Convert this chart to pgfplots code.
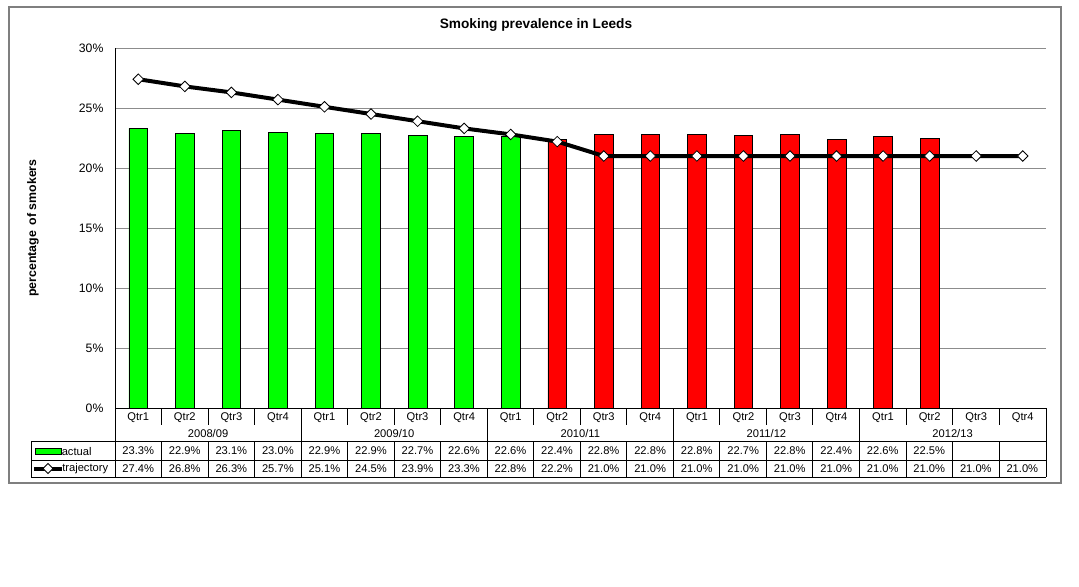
\documentclass[border=0pt]{standalone}
\usepackage{fontspec}
\setmainfont{Liberation Sans}
\usepackage{pgfplots}
\usepackage{pgfplotstable}
\pgfplotsset{compat=1.18}

\definecolor{barGreen}{HTML}{00FF00}
\definecolor{barRed}{HTML}{FF0000}
\definecolor{gridGray}{HTML}{8C8C8C}
\definecolor{frameGray}{HTML}{7F7F7F}

% quarterly smoking prevalence (%), quarters numbered from 2008/09 Qtr1
\pgfplotstableread{
idx actual
0  23.3
1  22.9
2  23.1
3  23.0
4  22.9
5  22.9
6  22.7
7  22.6
8  22.6
9  22.4
10 22.8
11 22.8
12 22.8
13 22.7
14 22.8
15 22.4
16 22.6
17 22.5
}\actualdata

\pgfplotstableread{
idx traj
0  27.4
1  26.8
2  26.3
3  25.7
4  25.1
5  24.5
6  23.9
7  23.3
8  22.8
9  22.2
10 21.0
11 21.0
12 21.0
13 21.0
14 21.0
15 21.0
16 21.0
17 21.0
18 21.0
19 21.0
}\trajdata

\newcommand{\tablefont}{\fontsize{8.4}{10}\selectfont}
\newcommand{\pctfmt}[1]{\pgfmathprintnumber[fixed,fixed zerofill,precision=1,assume math mode=true]{#1}\%}

\begin{document}
\begin{tikzpicture}
% page area, in pixel units measured from the top-left corner
\begin{scope}[x=0.75bp,y=-0.75bp]
  \path[use as bounding box] (0,0) rectangle (1079,586);
  \draw[frameGray,line width=1.3bp] (9,7) rectangle (1061,483);
\end{scope}

\begin{axis}[
  at={(86.25bp,-306bp)}, anchor=south west,
  width=698.25bp, height=270bp, scale only axis,
  xmin=-0.5, xmax=19.5, ymin=0, ymax=30,
  clip=false,
  axis line style={draw=none},
  major tick length=0pt,
  ytick={0,5,...,30},
  yticklabel={\pgfmathprintnumber{\tick}\%},
  yticklabel style={font=\fontsize{9.2}{11}\selectfont, anchor=east, inner sep=0pt, xshift=-8.5bp},
  xtick={0,...,19},
  xticklabels={Qtr1,Qtr2,Qtr3,Qtr4,Qtr1,Qtr2,Qtr3,Qtr4,Qtr1,Qtr2,Qtr3,Qtr4,Qtr1,Qtr2,Qtr3,Qtr4,Qtr1,Qtr2,Qtr3,Qtr4},
  xticklabel style={font=\tablefont, anchor=center, inner sep=0pt, yshift=-7bp},
  ymajorgrids,
  grid style={gridGray, line width=0.7bp},
  /pgf/number format/assume math mode=true,
]
  % actual prevalence: 2008/09 to 2010/11 Qtr1 in green, later quarters in red
  \addplot[ybar, bar shift=0pt, bar width=14bp, fill=barGreen, draw=black, line width=0.5bp,
           restrict x to domain=0:8]
    table[x=idx, y=actual] {\actualdata};
  \addplot[ybar, bar shift=0pt, bar width=14bp, fill=barRed, draw=black, line width=0.5bp,
           restrict x to domain=9:17]
    table[x=idx, y=actual] {\actualdata};
  % trajectory
  \addplot[black, line width=3bp, mark=square*, mark size=2.8bp,
           mark options={solid, rotate=45, fill=white, draw=black, line width=0.6bp}]
    table[x=idx, y=traj] {\trajdata};
\end{axis}

\begin{scope}[x=0.75bp,y=-0.75bp]
  % title and axis label
  \node[font=\bfseries\fontsize{10.3}{12}\selectfont] at (536,25) {Smoking prevalence in Leeds};
  \node[font=\bfseries\fontsize{9.3}{11}\selectfont, rotate=90] at (33,228) {percentage\, of smokers};

  % axis lines
  \draw[black, line width=0.75bp] (115,48) -- (115,477);
  \draw[black, line width=0.75bp] (115,408) -- (1046,408);
  \draw[black, line width=0.75bp] (1046,408) -- (1046,477);

  % category separators below the axis
  \foreach \k in {1,...,19} {
    \pgfmathsetmacro{\xb}{115+\k*46.53}
    \pgfmathtruncatemacro{\m}{mod(\k,4)}
    \ifnum\m=0
      \draw[black, line width=0.6bp] (\xb,408) -- (\xb,441);
    \else
      \draw[black, line width=0.75bp] (\xb,408) -- (\xb,425);
    \fi
    \draw[black, line width=0.75bp] (\xb,441) -- (\xb,477);
  }

  % year labels
  \foreach \g/\yr in {0/2008\slash 09,1/2009\slash 10,2/2010\slash 11,3/2011\slash 12,4/2012\slash 13} {
    \node[font=\tablefont, inner sep=0pt] at ({115+(4*\g+2)*46.53},433) {\yr};
  }

  % data table grid
  \draw[black, line width=0.75bp] (31,441) -- (1046,441);
  \draw[black, line width=0.75bp] (31,460) -- (1046,460);
  \draw[black, line width=0.75bp] (31,477) -- (1046,477);
  \draw[black, line width=0.75bp] (31,441) -- (31,477);

  % row headers with series keys
  \draw[black, line width=0.5bp, fill=barGreen] (35,448) rectangle (61,454);
  \node[font=\tablefont, anchor=west, inner sep=0pt] at (61.5,451) {actual};
  \draw[black, line width=3bp] (34,468.5) -- (62,468.5);
  \draw[black, fill=white, line width=0.6bp] (48,463.5) -- (53,468.5) -- (48,473.5) -- (43,468.5) -- cycle;
  \node[font=\tablefont, anchor=west, inner sep=0pt] at (62,468.5) {trajectory};

  % table values
  \pgfplotstableforeachcolumnelement{actual}\of\actualdata\as\cell{%
    \node[font=\tablefont, inner sep=0pt] at ({115+(\pgfplotstablerow+0.5)*46.53},451) {\pctfmt{\cell}};
  }
  \pgfplotstableforeachcolumnelement{traj}\of\trajdata\as\cell{%
    \node[font=\tablefont, inner sep=0pt] at ({115+(\pgfplotstablerow+0.5)*46.53},468.5) {\pctfmt{\cell}};
  }
\end{scope}
\end{tikzpicture}
\end{document}
